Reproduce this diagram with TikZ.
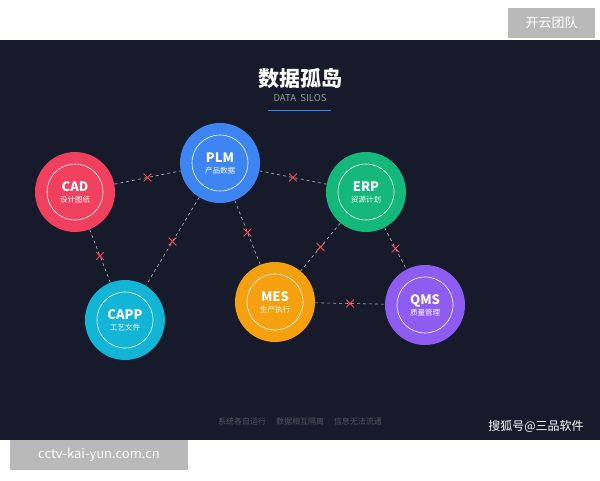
\documentclass[tikz,border=0pt]{standalone}
\usepackage{fontspec}
\setmainfont{Noto Sans CJK SC}
\usetikzlibrary{shapes.misc}
\definecolor{bgdark}{HTML}{161A2B}
\definecolor{cadred}{HTML}{F0405E}
\definecolor{plmblue}{HTML}{3D85F2}
\definecolor{erpgreen}{HTML}{14B87A}
\definecolor{cappcyan}{HTML}{12B5D6}
\definecolor{mesorange}{HTML}{F5A00F}
\definecolor{qmspurple}{HTML}{8E5CF0}
\tikzset{
  silo/.style={circle,minimum size=80pt,inner sep=0pt,text=white,align=center},
  ring/.style={circle,draw=white!75,line width=0.6pt,minimum size=56pt},
  link/.style={draw=gray!55,dashed,line width=0.6pt},
  xmark/.style={cross out,draw=red!70,line width=0.8pt,minimum size=7pt,inner sep=0pt}
}
\newcommand{\silotext}[2]{{\fontsize{13}{14}\selectfont\bfseries #1}\\[-1pt]{\fontsize{7.5}{8}\selectfont\color{white!80}#2}}
\begin{document}
\begin{tikzpicture}[x=1pt,y=-1pt]
\useasboundingbox (0,0) rectangle (600,480);
\fill[white] (0,0) rectangle (600,480);
\fill[bgdark] (0,40) rectangle (600,440);

% title
\node[text=white,font=\fontsize{21}{24}\selectfont\bfseries] (title) at (300,78) {数据孤岛};
\node[text=gray!80,font=\fontsize{9.5}{10}\selectfont] (subtitle) at (300,98) {DATA\ \ SILOS};
\draw[plmblue,line width=1pt] (268,110) -- (331,110);

% silos
\fill[cadred] (75,192) circle (40);
\node[silo] (cad) at (75,192) {\silotext{CAD}{设计图纸}};
\fill[plmblue] (220,163) circle (40);
\node[silo] (plm) at (220,163) {\silotext{PLM}{产品数据}};
\fill[erpgreen] (366,192) circle (40);
\node[silo] (erp) at (366,192) {\silotext{ERP}{资源计划}};
\fill[cappcyan] (125,320) circle (40);
\node[silo] (capp) at (125,320) {\silotext{CAPP}{工艺文件}};
\fill[mesorange] (275,302) circle (40);
\node[silo] (mes) at (275,302) {\silotext{MES}{生产执行}};
\fill[qmspurple] (425,305) circle (40);
\node[silo] (qms) at (425,305) {\silotext{QMS}{质量管理}};
\foreach \n in {cad,plm,erp,capp,mes,qms}
  \node[ring] at (\n) {};

% links
\foreach \a/\b in {cad/plm,plm/erp,cad/capp,plm/capp,plm/mes,erp/mes,erp/qms,mes/qms}
  \path[link] (\a) -- (\b) node[xmark,midway,solid] {};

% footer
\node[text=gray!60!bgdark,font=\fontsize{8}{9}\selectfont] (foot) at (300,421) {系统各自运行 \quad 数据相互隔离 \quad 信息无法流通};
\node[text=white,font=\fontsize{12}{13}\selectfont] (sohu) at (536,426) {搜狐号@三品软件};

% watermarks
\fill[gray!55] (508,8) rectangle (595,38);
\node[text=white,font=\fontsize{13}{14}\selectfont] (mark1) at (551.5,23) {开云团队};
\fill[gray!55] (10,440) rectangle (188,470);
\node[text=white,font=\fontsize{13}{14}\selectfont] (mark2) at (99,455) {cctv-kai-yun.com.cn};
\end{tikzpicture}
\end{document}
